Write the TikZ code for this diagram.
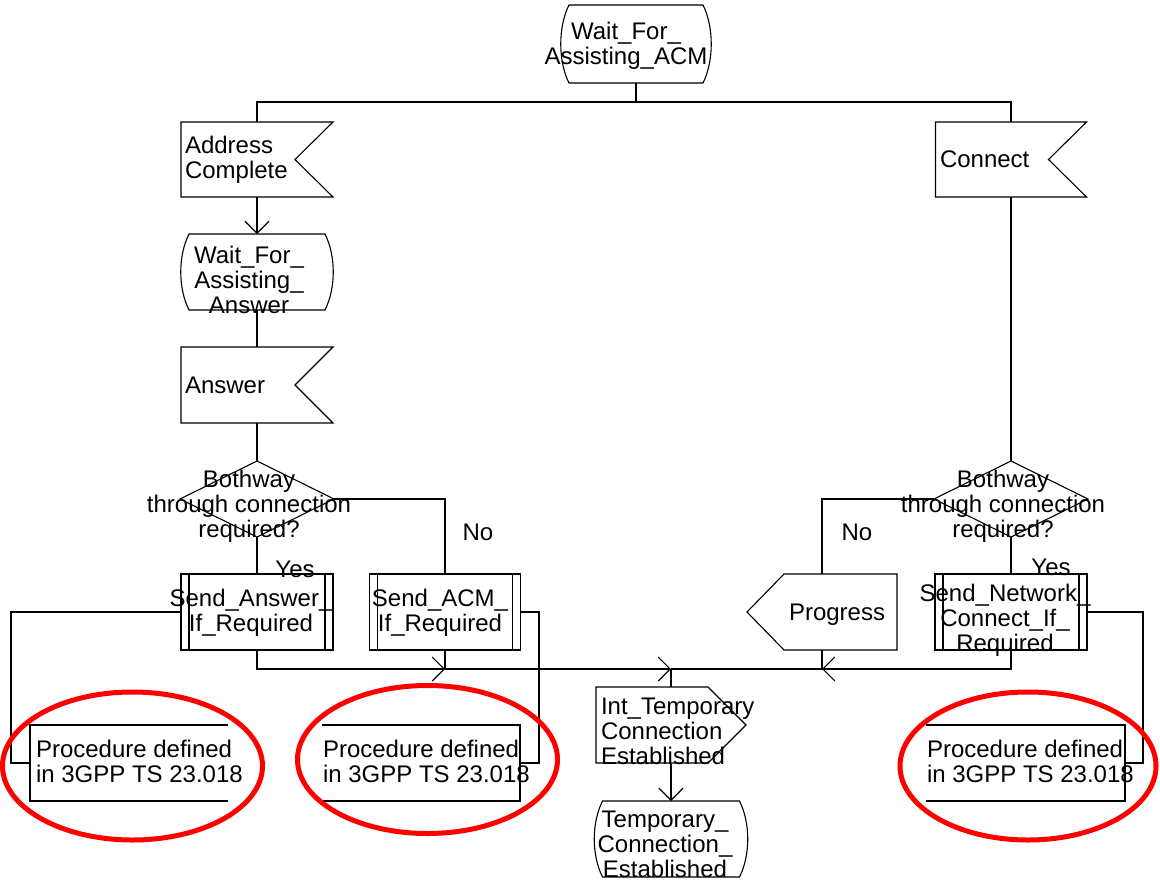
\documentclass[tikz,border=0pt]{standalone}
\usepackage{fontspec}
\setmainfont{Liberation Sans}
\usetikzlibrary{arrows.meta}

% multi-line labels whose baseline is the first line
\newcommand{\txl}[1]{\begin{tabular}[t]{@{}l@{}}#1\end{tabular}}
\newcommand{\txc}[1]{\begin{tabular}[t]{@{}c@{}}#1\end{tabular}}

\tikzset{
  slot/.style={rectangle, inner sep=0pt, outer sep=0pt, draw=none},
  lbl/.style={inner sep=0pt, outer sep=0pt, font=\fontsize{24}{25}\selectfont, anchor=base west},
  lblc/.style={lbl, anchor=base},
  outline/.style={line width=1.1pt, black},
  wire/.style={line width=1.1pt, black},
  flow/.style={wire, -{Straight Barb[length=12pt,width=24pt]}},
  redring/.style={draw=red, line width=5pt},
}

% SDL state symbol: flat top and bottom, bulging sides
\newcommand{\statebox}[1]{\draw[outline]
  ([xshift=8pt]#1.north west) -- ([xshift=-8pt]#1.north east)
  .. controls ([xshift=3pt,yshift=-22pt]#1.north east) and ([xshift=3pt,yshift=22pt]#1.south east) ..
  ([xshift=-8pt]#1.south east) -- ([xshift=8pt]#1.south west)
  .. controls ([xshift=-3pt,yshift=22pt]#1.south west) and ([xshift=-3pt,yshift=-22pt]#1.north west) ..
  cycle;}
% SDL input signal: notch on the right
\newcommand{\inbox}[1]{\draw[outline]
  (#1.north west) -- (#1.north east) -- ([xshift=-38pt]#1.east) -- (#1.south east) -- (#1.south west) -- cycle;}
% SDL output signal pointing right
\newcommand{\outboxr}[1]{\draw[outline]
  (#1.north west) -- ([xshift=-38pt]#1.north east) -- (#1.east) -- ([xshift=-38pt]#1.south east) -- (#1.south west) -- cycle;}
% SDL output signal pointing left
\newcommand{\outboxl}[1]{\draw[outline]
  (#1.west) -- ([xshift=37pt]#1.north west) -- (#1.north east) -- (#1.south east) -- ([xshift=37pt]#1.south west) -- cycle;}
% procedure call: rectangle with double side bars
\newcommand{\procbox}[1]{\draw[outline] (#1.north west) rectangle (#1.south east);
  \draw[outline] ([xshift=8pt]#1.north west) -- ([xshift=8pt]#1.south west);
  \draw[outline] ([xshift=-8pt]#1.north east) -- ([xshift=-8pt]#1.south east);}
% decision
\newcommand{\decbox}[1]{\draw[outline] (#1.north) -- (#1.east) -- (#1.south) -- (#1.west) -- cycle;}
% text annotation brackets, open on one side
\newcommand{\noteleft}[1]{\draw[outline] (#1.north east) -- (#1.north west) -- (#1.south west) -- (#1.south east);}
\newcommand{\noteright}[1]{\draw[outline] (#1.north west) -- (#1.north east) -- (#1.south east) -- (#1.south west);}

\begin{document}
\begin{tikzpicture}[x=1pt, y=-1pt]
\useasboundingbox (0,0) rectangle (1160,889);

% ---- symbol frames
\node[slot, minimum width=150pt, minimum height=78pt] (s0)   at (636,44) {};
\node[slot, minimum width=152pt, minimum height=75pt] (aci)  at (257,159.5) {};
\node[slot, minimum width=152pt, minimum height=76pt] (wfaa) at (257,272) {};
\node[slot, minimum width=152pt, minimum height=76pt] (ans)  at (257,385) {};
\node[slot, minimum width=154pt, minimum height=76pt] (d1)   at (257,499) {};
\node[slot, minimum width=152pt, minimum height=76pt] (sa)   at (257,612) {};
\node[slot, minimum width=151pt, minimum height=76pt] (sacm) at (445,612) {};
\node[slot, minimum width=198pt, minimum height=76pt] (p1)   at (129,763) {};
\node[slot, minimum width=198pt, minimum height=76pt] (p2)   at (421,763) {};
\node[slot, minimum width=199pt, minimum height=76pt] (p3)   at (1025.5,763) {};
\node[slot, minimum width=151pt, minimum height=75pt] (con)  at (1011,159.5) {};
\node[slot, minimum width=154pt, minimum height=76pt] (d2)   at (1011,499) {};
\node[slot, minimum width=152pt, minimum height=76pt] (snc)  at (1011,612) {};
\node[slot, minimum width=150pt, minimum height=76pt] (prog) at (822,612) {};
\node[slot, minimum width=150pt, minimum height=76pt] (ite)  at (671,725) {};
\node[slot, minimum width=153pt, minimum height=76pt] (tce)  at (671,839) {};

% ---- outlines
\statebox{s0}
\inbox{aci}
\statebox{wfaa}
\inbox{ans}
\decbox{d1}
\procbox{sa}
\procbox{sacm}
\noteleft{p1}
\noteright{p2}
\noteright{p3}
\inbox{con}
\decbox{d2}
\procbox{snc}
\outboxl{prog}
\outboxr{ite}
\statebox{tce}

% ---- junction points
\coordinate (jtop) at (636,102);
\coordinate (c1) at (11,763);
\coordinate (c2) at (539,763);
\coordinate (c3) at (1143,763);
\coordinate (m1) at (445,669);
\coordinate (m2) at (671,669);
\coordinate (m3) at (822,669);

% ---- connectors
\draw[wire] (s0.south) -- (jtop);
\draw[wire] (aci.north) |- (jtop);
\draw[wire] (con.north) |- (jtop);
\draw[flow] (aci.south) -- (wfaa.north);
\draw[wire] (wfaa.south) -- (ans.north);
\draw[wire] (ans.south) -- (d1.north);
\draw[wire] (d1.south) -- (sa.north);
\draw[wire] (d1.east) -| (sacm.north);
\draw[wire] (sa.west) -| (c1) -- (p1.west);
\draw[wire] (sacm.east) -| (c2) -- (p2.east);
\draw[wire] (con.south) -- (d2.north);
\draw[wire] (d2.south) -- (snc.north);
\draw[wire] (d2.west) -| (prog.north);
\draw[wire] (snc.east) -| (c3) -- (p3.east);
\draw[flow] (sa.south) |- (m1);
\draw[flow] (sacm.south) |- (m2);
\draw[flow] (snc.south) |- (m3);
\draw[wire] (prog.south) |- (m2);
\draw[wire] (m2) -- (ite.north);
\draw[flow] (ite.south) -- (tce.north);

% ---- texts
\node[lblc] (t0)  at (626,39)  {\txc{Wait\_For\_\\Assisting\_ACM}};
\node[lbl]  (t1)  at (185,153) {\txl{Address\\Complete}};
\node[lblc] (t2)  at (249,263) {\txc{Wait\_For\_\\Assisting\_\\Answer}};
\node[lbl]  (t3)  at (185,393) {Answer};
\node[lblc] (t4)  at (249,487) {\txc{Bothway\\through connection\\required?}};
\node[lblc] (t5)  at (295,577) {Yes};
\node[lblc] (t6)  at (478,540) {No};
\node[lblc] (t7)  at (251,606) {\txc{Send\_Answer\_\\If\_Required}};
\node[lblc] (t8)  at (440,606) {\txc{Send\_ACM\_\\If\_Required}};
\node[lbl]  (t9)  at (36,757)  {\txl{Procedure defined\\in 3GPP TS 23.018}};
\node[lbl]  (t10) at (323,757) {\txl{Procedure defined\\in 3GPP TS 23.018}};
\node[lbl]  (t11) at (927,757) {\txl{Procedure defined\\in 3GPP TS 23.018}};
\node[lbl]  (t12) at (940,167) {Connect};
\node[lblc] (t13) at (1003,487) {\txc{Bothway\\through connection\\required?}};
\node[lblc] (t14) at (857,540) {No};
\node[lblc] (t15) at (1051,575) {Yes};
\node[lblc] (t16) at (1005,601) {\txc{Send\_Network\_\\Connect\_If\_\\Required}};
\node[lbl]  (t17) at (789,620) {Progress};
\node[lbl]  (t18) at (601,714) {\txl{Int\_Temporary\\Connection\\Established}};
\node[lblc] (t19) at (665,827) {\txc{Temporary\_\\Connection\_\\Established}};

% ---- red highlight rings
\draw[redring] (132.5,766) ellipse [x radius=130pt, y radius=74pt];
\draw[redring] (427.5,759.5) ellipse [x radius=130pt, y radius=74pt];
\draw[redring] (1028,766) ellipse [x radius=128pt, y radius=74pt];
\end{tikzpicture}
\end{document}
